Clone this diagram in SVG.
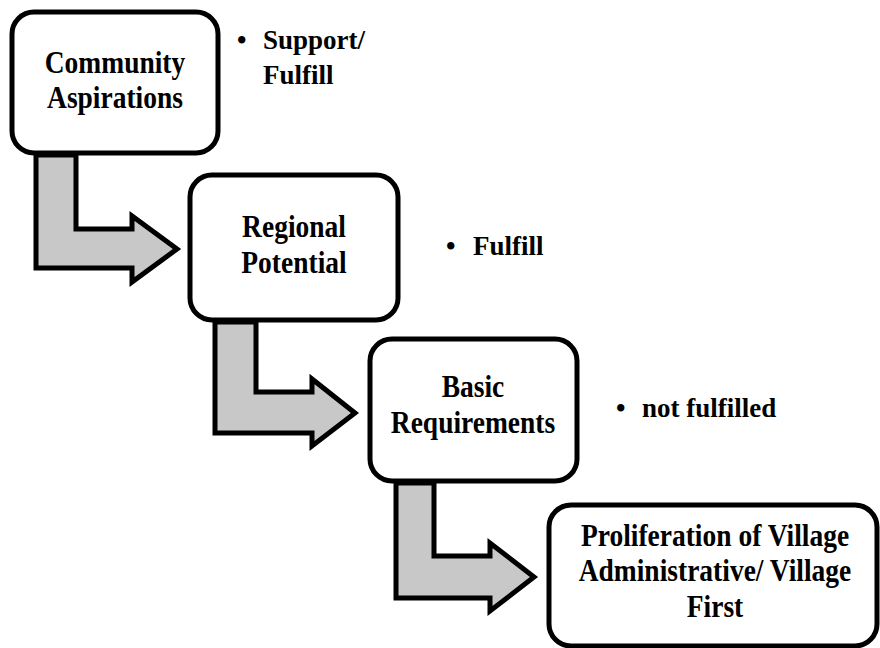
<svg xmlns="http://www.w3.org/2000/svg" width="880" height="648" viewBox="0 0 880 648">
<style>
.box{fill:#ffffff;stroke:#000000;stroke-width:5}
.arr{fill:#c8c8c8;stroke:#000000;stroke-width:5;stroke-linejoin:miter}
.t{font-family:"Liberation Serif","Times New Roman",serif;font-weight:bold;font-size:27.5px;fill:#000000;text-anchor:middle}
.b{font-family:"Liberation Serif","Times New Roman",serif;font-weight:bold;font-size:27px;fill:#000000}
</style>
<rect width="880" height="648" fill="#ffffff"/>
<g id="connectors">
<polygon class="arr" points="36,155 76,155 76,229 132,229 132,216 177,249 132,282 132,268 36,268"/>
<polygon class="arr" points="215,322 256,322 256,392 312,392 312,379 355,413 312,446 312,433 215,433"/>
<polygon class="arr" points="396,483 434,483 434,556 490,556 490,543 534,577 490,611 490,598 396,598"/>
</g>
<g id="node1">
<rect class="box" x="12" y="12" width="206" height="141" rx="22"/>
<text class="t" transform="translate(115,73) scale(1,1.12)"><tspan x="0" y="0">Community</tspan><tspan x="0" y="31.5">Aspirations</tspan></text>
</g>
<g id="node2">
<rect class="box" x="190" y="175" width="208" height="145" rx="22"/>
<text class="t" transform="translate(294,237) scale(1,1.12)"><tspan x="0" y="0">Regional</tspan><tspan x="0" y="32">Potential</tspan></text>
</g>
<g id="node3">
<rect class="box" x="370" y="339" width="207" height="142" rx="22"/>
<text class="t" transform="translate(473,397) scale(1,1.12)"><tspan x="0" y="0">Basic</tspan><tspan x="0" y="32">Requirements</tspan></text>
</g>
<g id="node4">
<rect class="box" x="549" y="505" width="328" height="141" rx="22"/>
<text class="t" transform="translate(715,546) scale(1,1.12)"><tspan x="0" y="0">Proliferation of Village</tspan><tspan x="0" y="31.7">Administrative/ Village</tspan><tspan x="0" y="63">First</tspan></text>
</g>
<g id="note1">
<text class="b" x="237" y="49">•</text>
<text class="b"><tspan x="263" y="49">Support/</tspan><tspan x="263" y="84">Fulfill</tspan></text>
</g>
<g id="note2">
<text class="b" x="446" y="255">•</text>
<text class="b" x="473" y="255">Fulfill</text>
</g>
<g id="note3">
<text class="b" x="616" y="417">•</text>
<text class="b" x="642" y="417">not fulfilled</text>
</g>
</svg>
